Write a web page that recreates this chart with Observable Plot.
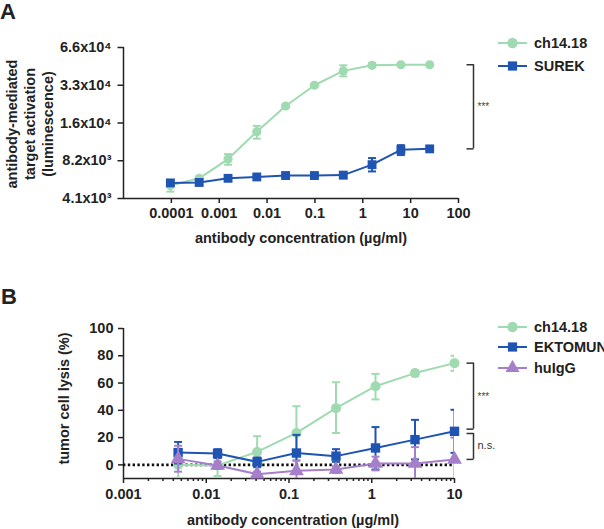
<!DOCTYPE html>
<html>
<head>
<meta charset="utf-8">
<script src="https://cdn.jsdelivr.net/npm/d3@7"></script>
<script src="https://cdn.jsdelivr.net/npm/@observablehq/plot@0.6"></script>
<style>
  html, body { margin: 0; padding: 0; background: #fff; }
  #root { position: relative; width: 604px; height: 529px; font-family: 'Liberation Sans', Arial, sans-serif; font-weight: bold; color: #222; overflow: hidden; }
  .panel { position: absolute; left: 0; }
  .letter { position: absolute; font-size: 22px; font-weight: bold; line-height: 22px; }
  .leg { position: absolute; display: flex; align-items: center; font-size: 14.5px; font-weight: bold; height: 16px; white-space: nowrap; }
  .leg svg { margin-right: 2px; }
</style>
</head>
<body>
<div id="root">
  <div id="pA" class="panel" style="top:0px"></div>
  <div id="pB" class="panel" style="top:270px"></div>
  <div class="letter" style="left:0px;top:1px">A</div>
  <div class="letter" style="left:1px;top:286px">B</div>
</div>
<script>
// ---------- Panel A data ----------
const concA = [0.0000954, 0.000381, 0.00153, 0.0061, 0.0244, 0.0977, 0.391, 1.5625, 6.25, 25];
const chA    = [5200, 5940, 8460, 13990, 22400, 32800, 42700, 47300, 47800, 47800];
const chA_lo = [4650, 5340, 7620, 12300, 21900, 31900, 38600, 45700, 47300, 47300];
const chA_hi = [5700, 6110, 9260, 15560, 22900, 33700, 47300, 49000, 48300, 48300];
const surekA    = [5460, 5500, 5940, 6090, 6250, 6250, 6300, 7630, 10020, 10200];
const surekA_lo = [5250, 5250, 5800, 5950, 6100, 6100, 5950, 6740, 9100, 9950];
const surekA_hi = [5700, 5800, 6100, 6250, 6400, 6400, 6650, 8610, 10920, 10450];
const xTicksA = [0.0001, 0.001, 0.01, 0.1, 1, 10, 100];
const xTickLabelsA = ["0.0001", "0.001", "0.01", "0.1", "1", "10", "100"];
const xDomainA = [0.00001, 100];
const yTicksA = [4100, 8200, 16400, 32800, 65600];
const yTickLabelsA = ["4.1x10³", "8.2x10³", "1.6x10⁴", "3.3x10⁴", "6.6x10⁴"];
const seriesA = ["ch14.18", "SUREK"];

// ---------- Panel B data ----------
const concB = [0.00457, 0.0137, 0.0412, 0.123, 0.370, 1.11, 3.33, 10];
const chB    = [0, -0.5, 9.5, 23.4, 41.6, 57.7, 67.3, 74.6];
const chB_lo = [-9.5, -8.2, -2, 3.8, 23.4, 48, 65, 69];
const chB_hi = [9.5, 7.8, 21, 43, 60.6, 66.7, 69.5, 80];
const ektB    = [9, 8.3, 2.2, 8.7, 6.4, 12.4, 18.5, 24.6];
const ektB_lo = [1, 5, -1.5, -5, 2.2, -3.4, 4, 8.8];
const ektB_hi = [16.8, 11.5, 5.4, 22, 11.5, 27.7, 33, 40.4];
const igB    = [4.4, -0.5, -6.8, -4.4, -3.4, 1, 1, 4];
const igB_lo = [-5, -3, -8.5, -12, -6, -4, -12, -12];
const igB_hi = [14, 2.5, -5, 3, -1, 6, 13, 20];
const xTicksB = [0.001, 0.01, 0.1, 1, 10];
const xTickLabelsB = ["0.001", "0.01", "0.1", "1", "10"];
const xDomainB = [0.001, 10];
const yTicksB = [0, 20, 40, 60, 80, 100];
const yTickLabelsB = ["0", "20", "40", "60", "80", "100"];
const yDomainB = [-10, 100];
const seriesB = ["ch14.18", "EKTOMUN", "huIgG"];

// ---------- styles ----------
const GREEN = "#a0dab0", BLUE = "#1f54b2", PURPLE = "#a57fca", AXIS = "#222";
const fontFamily = "'Liberation Sans', Arial, sans-serif";
const FS = 14.5;

const capSym = { draw(ctx, size) { const w = Math.sqrt(size / Math.PI); ctx.moveTo(-w, 0); ctx.lineTo(w, 0); } };
const leftTick = { draw(ctx, size) { const w = Math.sqrt(size / Math.PI); ctx.moveTo(-w, 0); ctx.lineTo(0, 0); } };

function rows(x, y, lo, hi, name) {
  return x.map((c, i) => ({ x: c, y: y[i], lo: lo[i], hi: hi[i], name }));
}

function seriesMarks(data, color, symbol, r) {
  return [
    Plot.ruleX(data, { x: "x", y1: "lo", y2: "hi", stroke: color, strokeWidth: 2, clip: true }),
    Plot.dot(data, { x: "x", y: "lo", symbol: capSym, r: 4, stroke: color, strokeWidth: 2, fill: "none", clip: true }),
    Plot.dot(data, { x: "x", y: "hi", symbol: capSym, r: 4, stroke: color, strokeWidth: 2, fill: "none", clip: true }),
    Plot.line(data, { x: "x", y: "y", stroke: color, strokeWidth: 2 }),
    Plot.dot(data, { x: "x", y: "y", symbol, r, fill: color, stroke: "none" })
  ];
}

// ---------- Panel A ----------
const dataChA = rows(concA, chA, chA_lo, chA_hi, seriesA[0]);
const dataSuA = rows(concA, surekA, surekA_lo, surekA_hi, seriesA[1]);
const yTickRowsA = yTicksA.map((t, i) => ({ y: t, label: yTickLabelsA[i] }));
const labA = new Map(xTicksA.map((t, i) => [t, xTickLabelsA[i]]));

const plotA = Plot.plot({
  width: 604, height: 250,
  marginLeft: 123, marginRight: 146, marginTop: 47, marginBottom: 52,
  x: { type: "log", domain: xDomainA, axis: null },
  y: { type: "log", base: 2, domain: [yTicksA[0], yTicksA[yTicksA.length - 1]], axis: null },
  style: { fontFamily, fontSize: FS + "px", fontWeight: "bold", color: AXIS, background: "transparent", overflow: "visible" },
  marks: [
    Plot.ruleY([yTicksA[0]], { stroke: AXIS, strokeWidth: 1.5 }),
    Plot.ruleX([xDomainA[0]], { stroke: AXIS, strokeWidth: 1.5 }),
    Plot.axisX(xTicksA, { tickFormat: (d) => labA.get(d), tickSize: 5, tickPadding: 4, stroke: AXIS, strokeWidth: 1.5, label: null }),
    Plot.dot(yTickRowsA, { x: () => xDomainA[0], y: "y", symbol: leftTick, r: 6, stroke: AXIS, strokeWidth: 1.5 }),
    Plot.text(yTickRowsA, { x: () => xDomainA[0], y: "y", text: "label", dx: -12, textAnchor: "end", fontSize: FS }),
    ...seriesMarks(dataChA, GREEN, "circle", 4.6),
    ...seriesMarks(dataSuA, BLUE, "square", 5),
    Plot.ruleX([{ x: xDomainA[1], y1: chA[chA.length - 1], y2: surekA[surekA.length - 1] }], { x: "x", y1: "y1", y2: "y2", dx: 15, stroke: "#333", strokeWidth: 1.5 }),
    Plot.dot([chA[chA.length - 1], surekA[surekA.length - 1]], { x: () => xDomainA[1], y: (d) => d, dx: 15, symbol: leftTick, r: 7, stroke: "#333", strokeWidth: 1.5 }),
    Plot.text(["***"], { x: () => xDomainA[1], y: () => Math.sqrt(chA[chA.length - 1] * surekA[surekA.length - 1]), dx: 19, text: (d) => d, textAnchor: "start", fontSize: 10, fontWeight: "normal", fill: "#444" }),
    Plot.text(["antibody concentration (µg/ml)"], { frameAnchor: "bottom", text: (d) => d, dy: 40, dx: 10, textAnchor: "middle", lineAnchor: "middle", fontSize: FS }),
    Plot.text(["antibody-mediated\ntarget activation\n(luminescence)"], { frameAnchor: "left", text: (d) => d, dx: -94, dy: 1, rotate: -90, textAnchor: "middle", lineAnchor: "middle", lineHeight: 1.25, fontSize: FS })
  ]
});
document.getElementById("pA").appendChild(plotA);

// ---------- Panel B ----------
const dataChB = rows(concB, chB, chB_lo, chB_hi, seriesB[0]);
const dataEkB = rows(concB, ektB, ektB_lo, ektB_hi, seriesB[1]);
const dataIgB = rows(concB, igB, igB_lo, igB_hi, seriesB[2]);
const labB = new Map(xTicksB.map((t, i) => [t, xTickLabelsB[i]]));
const labYB = new Map(yTicksB.map((t, i) => [t, yTickLabelsB[i]]));
const minorB = [];
for (let i = 0; i < xTicksB.length - 1; i++) for (let k = 2; k <= 9; k++) minorB.push(xTicksB[i] * k);

const gap = 1.6;
const plotB = Plot.plot({
  width: 604, height: 259,
  marginLeft: 123, marginRight: 150, marginTop: 58, marginBottom: 51,
  x: { type: "log", domain: xDomainB, axis: null },
  y: { domain: yDomainB, axis: null },
  style: { fontFamily, fontSize: FS + "px", fontWeight: "bold", color: AXIS, background: "transparent", overflow: "visible" },
  marks: [
    Plot.ruleY([yDomainB[0]], { stroke: AXIS, strokeWidth: 1.5 }),
    Plot.ruleX([xDomainB[0]], { stroke: AXIS, strokeWidth: 1.5 }),
    Plot.axisX(minorB, { tickSize: 3, stroke: AXIS, strokeWidth: 1.5, text: null, label: null }),
    Plot.axisX(xTicksB, { tickFormat: (d) => labB.get(d), tickSize: 5, tickPadding: 5, stroke: AXIS, strokeWidth: 1.5, label: null }),
    Plot.axisY(yTicksB, { tickFormat: (d) => labYB.get(d), tickSize: 5, tickPadding: 5, stroke: AXIS, strokeWidth: 1.5, label: null }),
    Plot.ruleY([0], { stroke: "#111", strokeWidth: 2.6, strokeDasharray: "2.4,2.4" }),
    ...seriesMarks(dataChB, GREEN, "circle", 5),
    ...seriesMarks(dataEkB, BLUE, "square", 5.3),
    ...seriesMarks(dataIgB, PURPLE, "triangle", 5.5),
    Plot.ruleX([{ x: xDomainB[1], y1: chB[chB.length - 1], y2: ektB[ektB.length - 1] + gap }], { x: "x", y1: "y1", y2: "y2", dx: 19, stroke: "#333", strokeWidth: 1.5 }),
    Plot.dot([chB[chB.length - 1], ektB[ektB.length - 1] + gap], { x: () => xDomainB[1], y: (d) => d, dx: 19, symbol: leftTick, r: 7, stroke: "#333", strokeWidth: 1.5 }),
    Plot.text(["***"], { x: () => xDomainB[1], y: () => (chB[chB.length - 1] + ektB[ektB.length - 1]) / 2, dx: 23, text: (d) => d, textAnchor: "start", fontSize: 10, fontWeight: "normal", fill: "#444" }),
    Plot.ruleX([{ x: xDomainB[1], y1: ektB[ektB.length - 1] - gap, y2: igB[igB.length - 1] }], { x: "x", y1: "y1", y2: "y2", dx: 19, stroke: "#333", strokeWidth: 1.5 }),
    Plot.dot([ektB[ektB.length - 1] - gap, igB[igB.length - 1]], { x: () => xDomainB[1], y: (d) => d, dx: 19, symbol: leftTick, r: 7, stroke: "#333", strokeWidth: 1.5 }),
    Plot.text(["n.s."], { x: () => xDomainB[1], y: () => (ektB[ektB.length - 1] + igB[igB.length - 1]) / 2, dx: 23, text: (d) => d, textAnchor: "start", fontSize: 11, fontWeight: "normal", fill: "#333" }),
    Plot.text(["antibody concentration (µg/ml)"], { frameAnchor: "bottom", text: (d) => d, dy: 42, dx: 4, textAnchor: "middle", lineAnchor: "middle", fontSize: FS }),
    Plot.text(["tumor cell lysis (%)"], { frameAnchor: "left", text: (d) => d, dx: -59, dy: -5, rotate: -90, textAnchor: "middle", lineAnchor: "middle", fontSize: FS })
  ]
});
document.getElementById("pB").appendChild(plotB);

// ---------- legends ----------
function symbolPath(name, r) {
  return d3.symbol(name === "circle" ? d3.symbolCircle : name === "square" ? d3.symbolSquare : d3.symbolTriangle, r * r * Math.PI)();
}
function legend(names, colors, symbols, left, tops) {
  const root = document.getElementById("root");
  names.forEach((n, i) => {
    const div = document.createElement("div");
    div.className = "leg";
    div.style.left = left + "px";
    div.style.top = (tops[i] - 8) + "px";
    div.innerHTML = `<svg width="36" height="16"><line x1="2" x2="31" y1="8" y2="8" stroke="${colors[i]}" stroke-width="2"/>` +
      `<path transform="translate(16.5,8)" d="${symbolPath(symbols[i], 5.2)}" fill="${colors[i]}"/></svg><span>${n}</span>`;
    root.appendChild(div);
  });
}
legend(seriesA, [GREEN, BLUE], ["circle", "square"], 496, [43, 66]);
legend(seriesB, [GREEN, BLUE, PURPLE], ["circle", "square", "triangle"], 496, [327, 347, 368]);
</script>
</body>
</html>
